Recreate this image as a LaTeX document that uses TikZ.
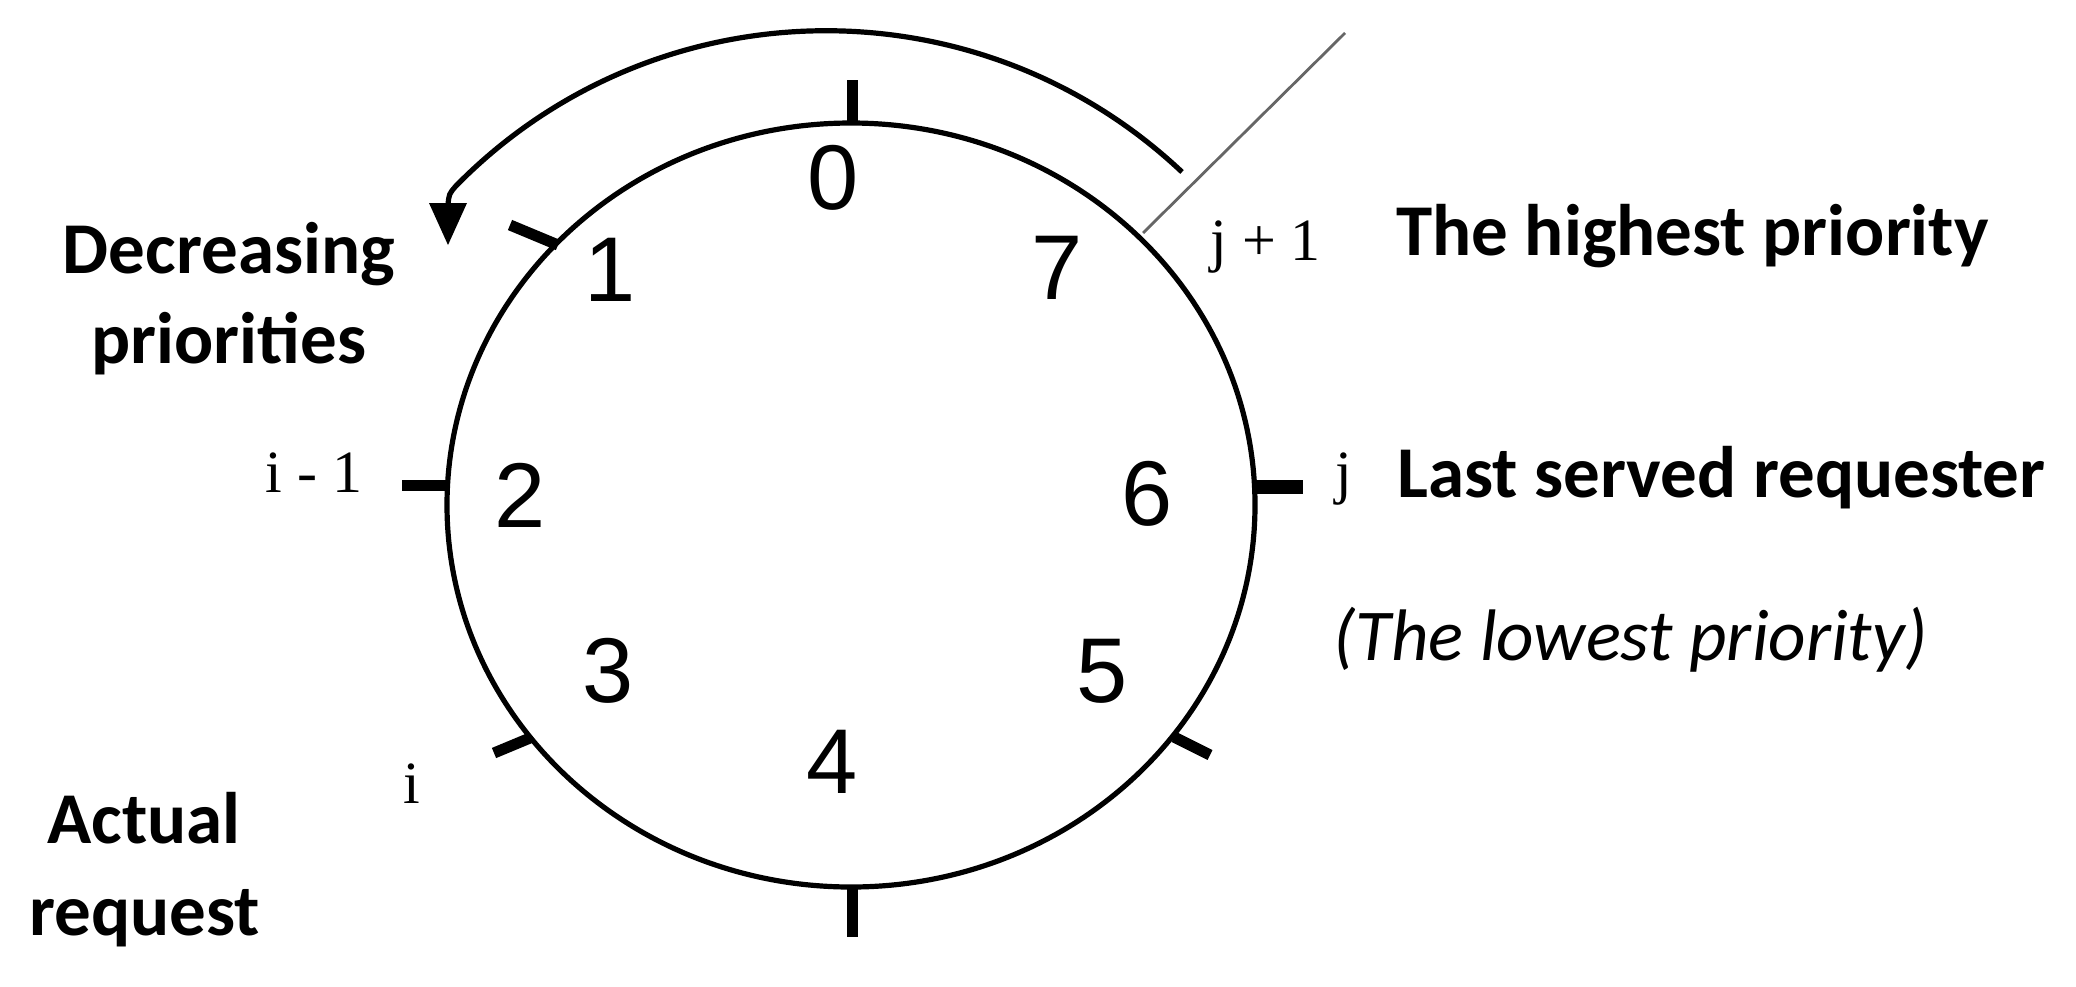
\documentclass[tikz,border=0pt]{standalone}
\usepackage{fontspec}
\newfontfamily\calfont{Carlito}
\newfontfamily\serfont{Liberation Serif}
\newfontfamily\arifont{Liberation Sans}
\begin{document}
\begin{tikzpicture}[x=0.5pt,y=-0.5pt,
  ring/.style={line width=2.6pt},
  tickmark/.style={line width=5.5pt},
  digit/.style={font=\arifont\fontsize{46}{50}\selectfont, inner sep=0pt},
  lbl/.style={font=\calfont\bfseries\fontsize{36.5}{42}\selectfont, inner sep=0pt},
  var/.style={font=\serfont\fontsize{30}{34}\selectfont, inner sep=0pt}]
\useasboundingbox (0,0) rectangle (2076,986);
\coordinate (c) at (851,505);
\draw[ring] (c) ellipse [x radius=202pt, y radius=191pt];
% ticks
\draw[tickmark] (852,80) -- (852,124);
\draw[tickmark] (852,887) -- (852,937);
\draw[tickmark] (402,485) -- (448,485);
\draw[line width=7pt] (1254,487) -- (1303,487);
\draw[tickmark] (510,225) -- (558,245);
\draw[tickmark] (494,753) -- (530,738);
\draw[tickmark] (1174,737) -- (1210,755);
% pointer line
\draw[line width=1.4pt, black!60] (1143,233) -- (1345,33);
% rotation arrow
\coordinate (arcstart) at (1182,172);
\coordinate (arcend) at (448,205);
\draw[ring] (arcstart) arc[start angle=46.7, end angle=135.5, radius=259.5pt]
  .. controls (449,194) .. (arcend);
\fill (429,203) -- (467,203) -- (448,245) -- cycle;
% digits
\node[digit] (d0) at (833,178) {0};
\node[digit] (d1) at (610,270) {1};
\node[digit] (d2) at (520,495) {2};
\node[digit] (d3) at (608,671) {3};
\node[digit] (d4) at (832,762) {4};
\node[digit] (d5) at (1102,671) {5};
\node[digit] (d6) at (1147,494) {6};
\node[digit] (d7) at (1057,268) {7};
% labels
\node[lbl, anchor=base] (dec1) at (229,273) {Decreasing};
\node[lbl, anchor=base] (dec2) at (229,363) {priorities};
\node[lbl, anchor=base] (act1) at (144,843) {Actual};
\node[lbl, anchor=base] (act2) at (145,935) {request};
\node[lbl, anchor=base west] (high) at (1396,255) {The highest priority};
\node[lbl, anchor=base west] (last) at (1397,497) {Last served requester};
\node[lbl, font=\calfont\itshape\fontsize{36.5}{42}\selectfont, anchor=base west] (low) at (1333,660) {(The lowest priority)};
% variables
\node[var, anchor=base west] (im1) at (265,492) {i - 1};
\node[var, anchor=base west] (jp1) at (1210,260) {j + 1};
\node[var, anchor=base west] (jj) at (1335,492) {j};
\node[var, anchor=base west] (ii) at (403,803) {i};
\end{tikzpicture}
\end{document}
